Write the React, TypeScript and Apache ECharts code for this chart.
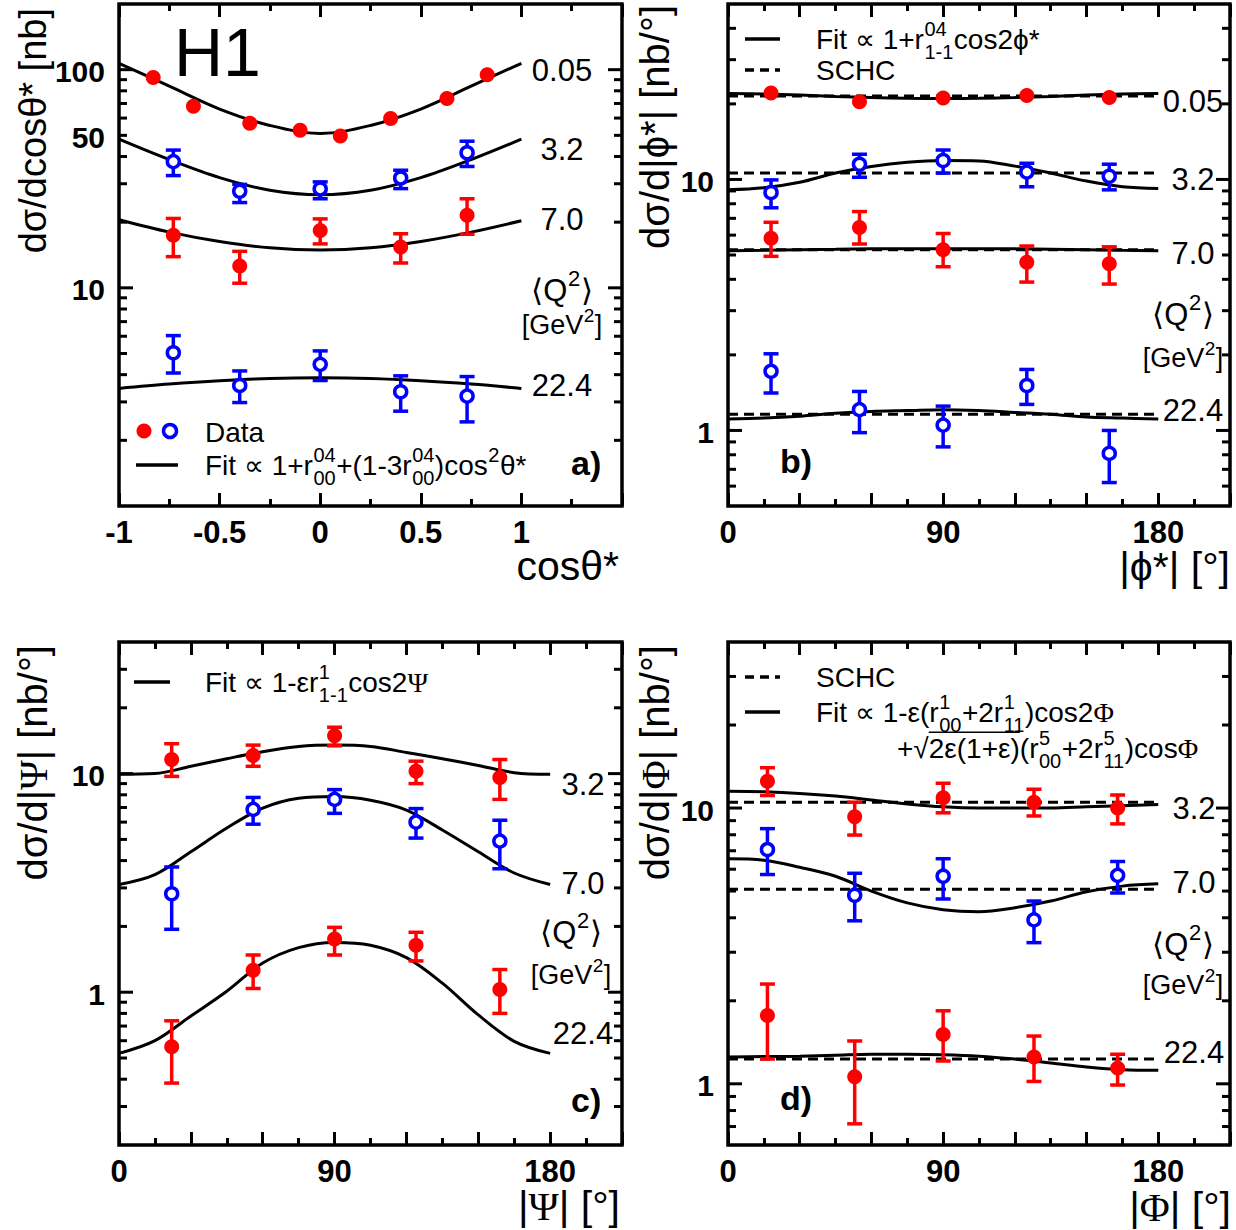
import React, { useEffect, useRef } from "react";
import * as echarts from "echarts";

// ---------- values ----------
// a) dσ/dcosθ*  [nb]
const aX005 = [-0.83, -0.63, -0.35, -0.1, 0.1, 0.35, 0.63, 0.83];
const aY005 = [92, 68, 56.8, 52.8, 49.7, 59.8, 73.8, 94.8];
const aX = [-0.73, -0.4, 0, 0.4, 0.73];
const aY32 = [37.9, 27.7, 28.4, 31.9, 41.6];
const aLo32 = [32.7, 24.6, 25.6, 28.5, 36];
const aHi32 = [42.8, 29.8, 30.6, 34.6, 47];
const aY70 = [17.4, 12.6, 18.3, 15.4, 21.5];
const aLo70 = [13.9, 10.5, 15.9, 13.0, 17.6];
const aHi70 = [20.8, 14.7, 20.7, 17.7, 25.6];
const aY224 = [5.04, 3.57, 4.46, 3.34, 3.19];
const aLo224 = [4.07, 2.98, 3.76, 2.72, 2.43];
const aHi224 = [6.04, 4.16, 5.14, 3.95, 3.92];
const aFitX = [-1, -0.75, -0.5, -0.25, 0, 0.25, 0.5, 0.75, 1];
const aFit005 = [107, 84, 66, 55.5, 51, 55.5, 66, 84, 107];
const aFit32 = [48, 38.7, 32, 28, 26.7, 28, 32, 38.7, 48];
const aFit70 = [20.5, 18.0, 16.3, 15.25, 14.9, 15.25, 16.3, 18.0, 20.3];
const aFit224 = [3.46, 3.62, 3.75, 3.84, 3.87, 3.84, 3.75, 3.62, 3.46];

// b) dσ/d|φ*|  [nb/°]
const bX = [18, 55, 90, 125, 159.5];
const bY005 = [22.1, 20.4, 21.1, 21.6, 21.2];
const bY32 = [8.87, 11.5, 11.9, 10.7, 10.3];
const bLo32 = [7.71, 10.2, 10.6, 9.35, 9.09];
const bHi32 = [9.96, 12.6, 13.1, 11.6, 11.5];
const bY70 = [5.83, 6.43, 5.25, 4.68, 4.61];
const bLo70 = [4.94, 5.53, 4.49, 3.9, 3.83];
const bHi70 = [6.75, 7.45, 6.09, 5.43, 5.39];
const bY224 = [1.72, 1.21, 1.05, 1.51, 0.81];
const bLo224 = [1.41, 0.98, 0.86, 1.27, 0.62];
const bHi224 = [2.02, 1.43, 1.25, 1.75, 1.0];

// fit curves of b, c, d are read every 15°
const angFitX = [0, 15, 30, 45, 60, 75, 90, 105, 120, 135, 150, 165, 180];
const bFit005 = [22.0, 21.9, 21.7, 21.4, 21.2, 21.05, 21.0, 21.05, 21.2, 21.4, 21.7, 21.9, 22.0];
const bFit32 = [9.1, 9.27, 9.75, 10.6, 11.25, 11.7, 11.9, 11.85, 11.3, 10.6, 9.85, 9.35, 9.2];
const bFit70 = [5.2, 5.22, 5.25, 5.27, 5.29, 5.3, 5.3, 5.3, 5.29, 5.27, 5.25, 5.22, 5.2];
const bFit224 = [1.11, 1.12, 1.14, 1.17, 1.19, 1.2, 1.21, 1.2, 1.18, 1.16, 1.13, 1.12, 1.11];
const bSchc = [21.5, 10.6, 5.25, 1.16];

// c) dσ/d|Ψ|  [nb/°]
const cX = [22, 56, 90, 124, 159];
const cY32 = [11.6, 12.1, 14.9, 10.25, 9.59];
const cLo32 = [9.71, 10.8, 13.4, 9.0, 7.62];
const cHi32 = [13.7, 13.5, 16.3, 11.4, 11.6];
const cY70 = [2.82, 6.86, 7.62, 6.0, 4.91];
const cLo70 = [1.94, 5.87, 6.58, 5.07, 3.67];
const cHi70 = [3.74, 7.78, 8.45, 6.92, 6.12];
const cY224 = [0.563, 1.26, 1.75, 1.64, 1.03];
const cLo224 = [0.384, 1.04, 1.48, 1.39, 0.8];
const cHi224 = [0.74, 1.48, 1.98, 1.88, 1.27];
const cFit32 = [9.92, 10.0, 10.8, 11.7, 12.6, 13.3, 13.5, 13.3, 12.5, 11.7, 10.9, 10.1, 9.92];
const cFit70 = [3.11, 3.45, 4.39, 5.64, 6.95, 7.71, 7.85, 7.55, 6.81, 5.52, 4.39, 3.51, 3.11];
const cFit224 = [0.525, 0.6, 0.778, 1.01, 1.36, 1.6, 1.69, 1.64, 1.44, 1.1, 0.787, 0.596, 0.525];

// d) dσ/d|Φ|  [nb/°]
const dX = [16.5, 53, 90, 128, 163];
const dY32 = [12.5, 9.29, 10.9, 10.5, 10.0];
const dLo32 = [11.1, 7.98, 9.61, 9.36, 8.76];
const dHi32 = [14.0, 10.5, 12.3, 11.7, 11.15];
const dY70 = [7.07, 4.83, 5.66, 3.93, 5.7];
const dLo70 = [5.74, 3.9, 4.68, 3.25, 4.92];
const dHi70 = [8.42, 5.8, 6.55, 4.6, 6.4];
const dY224 = [1.77, 1.06, 1.51, 1.25, 1.14];
const dLo224 = [1.23, 0.716, 1.21, 1.02, 0.99];
const dHi224 = [2.3, 1.43, 1.84, 1.49, 1.28];
const dFit32 = [11.5, 11.45, 11.3, 11.05, 10.7, 10.35, 10.1, 10.0, 10.0, 10.0, 10.1, 10.2, 10.3];
const dFit70 = [6.55, 6.47, 6.1, 5.66, 5.0, 4.53, 4.28, 4.21, 4.35, 4.6, 4.97, 5.21, 5.31];
const dFit224 = [1.25, 1.255, 1.26, 1.27, 1.28, 1.28, 1.275, 1.26, 1.23, 1.19, 1.15, 1.125, 1.12];
const dSchc = [10.5, 5.08, 1.23];

// axes
const cosRange = [-1, 1.5];
const cosLabels = [-1, -0.5, 0, 0.5, 1];
const angRange = [0, 210];
const angLabels = [0, 90, 180];
const aYRange = [1, 200];
const bYRange = [0.5, 50];
const cYRange = [0.2, 40];
const dYRange = [0.6, 40];
const aYTicks = [2, 3, 4, 5, 6, 7, 8, 9, 10, 20, 30, 40, 50, 60, 70, 80, 90, 100];
const bYTicks = [0.6, 0.7, 0.8, 0.9, 1, 2, 3, 4, 5, 6, 7, 8, 9, 10, 20, 30, 40];
const cYTicks = [0.3, 0.4, 0.5, 0.6, 0.7, 0.8, 0.9, 1, 2, 3, 4, 5, 6, 7, 8, 9, 10, 20, 30];
const dYTicks = [0.7, 0.8, 0.9, 1, 2, 3, 4, 5, 6, 7, 8, 9, 10, 20, 30];
const aYLabels = [10, 50, 100];
const yLabels = [1, 10];

const RED = "#ff0000";
const BLUE = "#0000ff";
const FONT = '"Liberation Sans", Arial, Helvetica, sans-serif';
const SERIF = '"Liberation Serif", "Times New Roman", serif';

const frames = [
  { left: 119, top: 4, width: 503, height: 502 },
  { left: 728, top: 4, width: 502, height: 502 },
  { left: 119, top: 642, width: 503, height: 503 },
  { left: 728, top: 642, width: 502, height: 503 },
];

let measureCtx: CanvasRenderingContext2D | null = null;
function textWidth(s: string, font: string) {
  if (!measureCtx) measureCtx = document.createElement("canvas").getContext("2d");
  measureCtx!.font = font;
  return measureCtx!.measureText(s).width;
}

function label(x: number, y: number, text: string, size: number, opt: any = {}) {
  const family = opt.serif ? SERIF : FONT;
  const font = `${opt.weight || "normal"} ${size}px ${family}`;
  const align = opt.align || "left";
  const style: any = {
    text, font, fill: "#000",
    align, verticalAlign: "middle", textAlign: align, textVerticalAlign: "middle",
  };
  if (opt.rich) style.rich = opt.rich;
  return { type: "text", x, y, rotation: opt.rotation || 0, silent: true, z: 10, style };
}

// serif glyph inside a sans title
const serifRich = (size: number) => ({
  s: { fontFamily: SERIF, fontSize: size, fill: "#000", color: "#000" },
});

type Part = { t?: string; sup?: string; sub?: string; over?: boolean; serif?: boolean };
function richLabel(x: number, y: number, parts: Part[], size: number, align = "left") {
  const small = Math.round(size * 0.7);
  const sfont = `normal ${small}px ${FONT}`;
  const w = parts.map((p) =>
    p.t !== undefined
      ? textWidth(p.t, `normal ${size}px ${p.serif ? SERIF : FONT}`)
      : Math.max(p.sup ? textWidth(p.sup, sfont) : 0, p.sub ? textWidth(p.sub, sfont) : 0) + 1
  );
  const total = w.reduce((s, v) => s + v, 0);
  let cx = align === "left" ? x : align === "center" ? x - total / 2 : x - total;
  const els: any[] = [];
  parts.forEach((p, k) => {
    if (p.t !== undefined) {
      els.push(label(cx, y, p.t, size, { serif: p.serif }));
      if (p.over)
        els.push({
          type: "line", silent: true, z: 10,
          shape: { x1: cx, y1: y - size * 0.56, x2: cx + w[k], y2: y - size * 0.56 },
          style: { stroke: "#000", lineWidth: 1.5 },
        });
    } else {
      if (p.sup) els.push(label(cx + 0.5, y - size * 0.36, p.sup, small));
      if (p.sub) els.push(label(cx + 0.5, y + size * 0.45, p.sub, small));
    }
    cx += w[k];
  });
  return els;
}

function hline(x1: number, x2: number, y: number, dashed = false) {
  return {
    type: "line", silent: true, z: 10,
    shape: { x1, y1: y, x2, y2: y },
    style: { stroke: "#000", lineWidth: 3.5, lineDash: dashed ? [9, 6] : null },
  };
}

function q2Block(cx: number, rows: { y: number; t: string }[], qx: number, qy: number, gy: number) {
  const els: any[] = [];
  rows.forEach((r) => els.push(label(cx, r.y, r.t, 31, { align: "center" })));
  els.push(...richLabel(qx, qy, [{ t: "\u27E8Q" }, { sup: "2" }, { t: "\u27E9" }], 31, "center"));
  els.push(...richLabel(qx, gy, [{ t: "[GeV" }, { sup: "2" }, { t: "]" }], 27, "center"));
  return els;
}

function fitLine(i: number, xs: number[], ys: number[]) {
  return {
    type: "line", xAxisIndex: 2 * i, yAxisIndex: i, silent: true, z: 2,
    data: xs.map((x, k) => [x, ys[k]]),
    symbol: "none", smooth: 0.35,
    lineStyle: { color: "#000", width: 3 },
  };
}

function schcLine(i: number, v: number) {
  return {
    type: "line", xAxisIndex: 2 * i, yAxisIndex: i, silent: true, z: 2,
    data: [[0, v], [180, v]],
    symbol: "none",
    lineStyle: { color: "#000", width: 3, type: [10, 6] },
  };
}

function points(i: number, xs: number[], ys: number[], open: boolean) {
  return {
    type: "scatter", xAxisIndex: 2 * i, yAxisIndex: i, silent: true, z: 4,
    data: xs.map((x, k) => [x, ys[k]]),
    symbol: "circle",
    symbolSize: open ? 12 : 15,
    itemStyle: open
      ? { color: "#fff", borderColor: BLUE, borderWidth: 3.5, opacity: 1 }
      : { color: RED, opacity: 1 },
  };
}

function errBars(i: number, xs: number[], lo: number[], hi: number[], color: string) {
  return {
    type: "custom", xAxisIndex: 2 * i, yAxisIndex: i, silent: true, z: 3,
    data: xs.map((x, k) => [x, lo[k], hi[k]]),
    encode: { x: 0, y: [1, 2] },
    renderItem: (params: any, api: any) => {
      const x = api.value(0);
      const a = api.coord([x, api.value(1)]);
      const b = api.coord([x, api.value(2)]);
      const w = 7.5;
      const st = { stroke: color, lineWidth: 3.5 };
      return {
        type: "group",
        children: [
          { type: "line", shape: { x1: a[0], y1: a[1], x2: b[0], y2: b[1] }, style: st },
          { type: "line", shape: { x1: a[0] - w, y1: a[1], x2: a[0] + w, y2: a[1] }, style: st },
          { type: "line", shape: { x1: b[0] - w, y1: b[1], x2: b[0] + w, y2: b[1] }, style: st },
        ],
      };
    },
  };
}

function yTicks(i: number, xMin: number, ticks: number[], majors: number[], labels: number[]) {
  return {
    type: "custom", xAxisIndex: 2 * i, yAxisIndex: i, silent: true, z: 5, clip: false,
    data: ticks.map((v) => [xMin, v]),
    encode: { x: 0, y: 1 },
    renderItem: (params: any, api: any) => {
      const v = api.value(1);
      const p = api.coord([api.value(0), v]);
      const cs = params.coordSys;
      const len = majors.includes(v) ? 14 : 8;
      const st = { stroke: "#000", lineWidth: 3 };
      const children: any[] = [
        { type: "line", shape: { x1: cs.x, y1: p[1], x2: cs.x + len, y2: p[1] }, style: st },
        { type: "line", shape: { x1: cs.x + cs.width - len, y1: p[1], x2: cs.x + cs.width, y2: p[1] }, style: st },
      ];
      if (labels.includes(v))
        children.push({
          type: "text", x: cs.x - 14, y: p[1] + 2,
          style: {
            text: String(v), font: `bold 30px ${FONT}`, fill: "#000",
            align: "right", verticalAlign: "middle", textAlign: "right", textVerticalAlign: "middle",
          },
        });
      return { type: "group", children };
    },
  };
}

function xAxisFor(i: number, range: number[], interval: number, labels: number[], position: string) {
  return {
    type: "value", gridIndex: i, position, min: range[0], max: range[1], interval,
    axisLine: { show: false },
    splitLine: { show: false },
    axisTick: { show: true, inside: true, length: 13, lineStyle: { color: "#000", width: 3 } },
    minorTick: { show: true, splitNumber: 2, length: 7, lineStyle: { color: "#000", width: 3 } },
    axisLabel: {
      show: position === "bottom", margin: 11,
      formatter: (v: number) => (labels.includes(v) ? String(v) : ""),
      fontFamily: FONT, fontWeight: "bold", fontSize: 31, color: "#000",
    },
  };
}

function yAxisFor(i: number, range: number[]) {
  return {
    type: "log", logBase: 10, gridIndex: i, min: range[0], max: range[1],
    axisLine: { show: false }, axisTick: { show: false }, axisLabel: { show: false },
    splitLine: { show: false }, minorTick: { show: false },
  };
}

function buildOption() {
  const graphics: any[] = [];
  // H1
  graphics.push(label(174, 52, "H1", 68));
  // axis titles
  const rot = Math.PI / 2;
  graphics.push(label(33, 8, "d\u03C3/dcos\u03B8* [nb]", 38, { align: "right", rotation: rot }));
  graphics.push(label(655, 5, "d\u03C3/d|\u03D5*| [nb/\u00B0]", 40, { align: "right", rotation: rot }));
  graphics.push(
    label(33, 645, "d\u03C3/d|{s|\u03A8}| [nb/\u00B0]", 40, { align: "right", rotation: rot, rich: serifRich(40) })
  );
  graphics.push(
    label(655, 645, "d\u03C3/d|{s|\u03A6}| [nb/\u00B0]", 40, { align: "right", rotation: rot, rich: serifRich(40) })
  );
  graphics.push(label(619, 566, "cos\u03B8*", 41, { align: "right" }));
  graphics.push(label(1230, 567, "|\u03D5*| [\u00B0]", 41, { align: "right" }));
  graphics.push(label(620, 1206, "|{s|\u03A8}| [\u00B0]", 41, { align: "right", rich: serifRich(41) }));
  graphics.push(label(1231, 1207, "|{s|\u03A6}| [\u00B0]", 41, { align: "right", rich: serifRich(41) }));
  // panel tags
  graphics.push(label(571, 463, "a)", 34, { weight: "bold" }));
  graphics.push(label(780, 461, "b)", 34, { weight: "bold" }));
  graphics.push(label(571, 1100, "c)", 34, { weight: "bold" }));
  graphics.push(label(780, 1098, "d)", 34, { weight: "bold" }));

  // Q² labels
  graphics.push(
    ...q2Block(562, [{ y: 70, t: "0.05" }, { y: 149, t: "3.2" }, { y: 219, t: "7.0" }, { y: 385, t: "22.4" }], 562, 290, 325)
  );
  graphics.push(
    ...q2Block(1193, [{ y: 101, t: "0.05" }, { y: 179, t: "3.2" }, { y: 253, t: "7.0" }, { y: 410, t: "22.4" }], 1183, 314, 358)
  );
  graphics.push(...q2Block(583, [{ y: 784, t: "3.2" }, { y: 883, t: "7.0" }, { y: 1033, t: "22.4" }], 571, 932, 975));
  graphics.push(...q2Block(1194, [{ y: 808, t: "3.2" }, { y: 882, t: "7.0" }, { y: 1052, t: "22.4" }], 1183, 944, 985));

  // legend a
  graphics.push({ type: "circle", silent: true, z: 10, shape: { cx: 144, cy: 431, r: 7.5 }, style: { fill: RED } });
  graphics.push({
    type: "circle", silent: true, z: 10, shape: { cx: 170, cy: 431, r: 6.5 },
    style: { fill: "#fff", stroke: BLUE, lineWidth: 3.5 },
  });
  graphics.push(label(205, 432, "Data", 28));
  graphics.push(hline(136, 178, 465));
  graphics.push(
    ...richLabel(205, 465, [
      { t: "Fit \u221D 1+r" }, { sup: "04", sub: "00" }, { t: "+(1-3r" }, { sup: "04", sub: "00" },
      { t: ")cos" }, { sup: "2" }, { t: "\u03B8*" },
    ], 28)
  );
  // legend b
  graphics.push(hline(745, 780, 39));
  graphics.push(...richLabel(816, 39, [{ t: "Fit \u221D 1+r" }, { sup: "04", sub: "1-1" }, { t: "cos2\u03D5*" }], 28));
  graphics.push(hline(745, 780, 70, true));
  graphics.push(label(816, 70, "SCHC", 28));
  // legend c
  graphics.push(hline(134, 170, 682));
  graphics.push(
    ...richLabel(205, 682, [{ t: "Fit \u221D 1-\u03B5r" }, { sup: "1", sub: "1-1" }, { t: "cos2" }, { t: "\u03A8", serif: true }], 28)
  );
  // legend d
  graphics.push(hline(745, 780, 677, true));
  graphics.push(label(816, 677, "SCHC", 28));
  graphics.push(hline(745, 780, 712));
  graphics.push(
    ...richLabel(816, 712, [
      { t: "Fit \u221D 1-\u03B5(r" }, { sup: "1", sub: "00" }, { t: "+2r" }, { sup: "1", sub: "11" }, { t: ")cos2" },
      { t: "\u03A6", serif: true },
    ], 28)
  );
  graphics.push(
    ...richLabel(897, 748, [
      { t: "+\u221A" }, { t: "2\u03B5(1+\u03B5)", over: true }, { t: "(r" }, { sup: "5", sub: "00" },
      { t: "+2r" }, { sup: "5", sub: "11" }, { t: ")cos" }, { t: "\u03A6", serif: true },
    ], 28)
  );

  return {
    animation: false,
    backgroundColor: "#fff",
    grid: frames.map((f) => ({
      ...f, show: true, borderColor: "#000", borderWidth: 3.5, backgroundColor: "transparent",
      containLabel: false,
    })),
    xAxis: [
      xAxisFor(0, cosRange, 0.5, cosLabels, "bottom"),
      xAxisFor(0, cosRange, 0.5, [], "top"),
      xAxisFor(1, angRange, 30, angLabels, "bottom"),
      xAxisFor(1, angRange, 30, [], "top"),
      xAxisFor(2, angRange, 30, angLabels, "bottom"),
      xAxisFor(2, angRange, 30, [], "top"),
      xAxisFor(3, angRange, 30, angLabels, "bottom"),
      xAxisFor(3, angRange, 30, [], "top"),
    ],
    yAxis: [yAxisFor(0, aYRange), yAxisFor(1, bYRange), yAxisFor(2, cYRange), yAxisFor(3, dYRange)],
    graphic: { elements: graphics },
    series: [
      // ticks
      yTicks(0, cosRange[0], aYTicks, [10, 100], aYLabels),
      yTicks(1, angRange[0], bYTicks, [1, 10], yLabels),
      yTicks(2, angRange[0], cYTicks, [1, 10], yLabels),
      yTicks(3, angRange[0], dYTicks, [1, 10], yLabels),
      // a
      fitLine(0, aFitX, aFit005),
      fitLine(0, aFitX, aFit32),
      fitLine(0, aFitX, aFit70),
      fitLine(0, aFitX, aFit224),
      errBars(0, aX, aLo32, aHi32, BLUE),
      errBars(0, aX, aLo70, aHi70, RED),
      errBars(0, aX, aLo224, aHi224, BLUE),
      points(0, aX005, aY005, false),
      points(0, aX, aY32, true),
      points(0, aX, aY70, false),
      points(0, aX, aY224, true),
      // b
      fitLine(1, angFitX, bFit005),
      fitLine(1, angFitX, bFit32),
      fitLine(1, angFitX, bFit70),
      fitLine(1, angFitX, bFit224),
      ...bSchc.map((v) => schcLine(1, v)),
      errBars(1, bX, bLo32, bHi32, BLUE),
      errBars(1, bX, bLo70, bHi70, RED),
      errBars(1, bX, bLo224, bHi224, BLUE),
      points(1, bX, bY005, false),
      points(1, bX, bY32, true),
      points(1, bX, bY70, false),
      points(1, bX, bY224, true),
      // c
      fitLine(2, angFitX, cFit32),
      fitLine(2, angFitX, cFit70),
      fitLine(2, angFitX, cFit224),
      errBars(2, cX, cLo32, cHi32, RED),
      errBars(2, cX, cLo70, cHi70, BLUE),
      errBars(2, cX, cLo224, cHi224, RED),
      points(2, cX, cY32, false),
      points(2, cX, cY70, true),
      points(2, cX, cY224, false),
      // d
      fitLine(3, angFitX, dFit32),
      fitLine(3, angFitX, dFit70),
      fitLine(3, angFitX, dFit224),
      ...dSchc.map((v) => schcLine(3, v)),
      errBars(3, dX, dLo32, dHi32, RED),
      errBars(3, dX, dLo70, dHi70, BLUE),
      errBars(3, dX, dLo224, dHi224, RED),
      points(3, dX, dY32, false),
      points(3, dX, dY70, true),
      points(3, dX, dY224, false),
    ],
  };
}

export default function App() {
  const ref = useRef<HTMLDivElement>(null);

  useEffect(() => {
    if (!ref.current) return;
    const chart = echarts.init(ref.current, null, { renderer: "svg" });
    chart.setOption(buildOption() as any);
    return () => {
      chart.dispose();
    };
  }, []);

  return (
    <div
      ref={ref}
      style={{ position: "absolute", left: 0, top: 0, width: 1236, height: 1230, background: "#fff" }}
    />
  );
}
